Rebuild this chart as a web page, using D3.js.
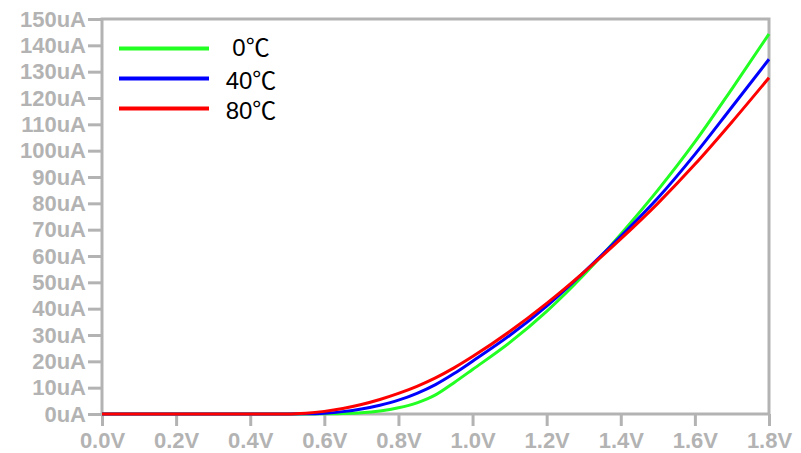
<!DOCTYPE html>
<html lang="en">
<head>
    <meta charset="UTF-8">
    <title>Id-Vg vs temperature</title>
    <script src="https://d3js.org/d3.v7.min.js"></script>
    <style>
        body { margin: 0; background: #fff; }
        .axis text {
            font-family: "Liberation Sans", Arial, sans-serif;
            font-weight: bold;
            font-size: 22px;
            fill: #b3b3b3;
        }
        .axis line, .axis path { stroke: #b3b3b3; stroke-width: 3; }
        .line { fill: none; stroke-width: 3; }
        .legend text {
            font-family: "Liberation Sans", Arial, "Noto Sans CJK SC", sans-serif;
            font-size: 24px;
            fill: #000;
        }
    </style>
</head>
<body>
    <svg width="801" height="453"></svg>
    <script>
        // gate voltage (V)
        const vgs = [0.0, 0.1, 0.2, 0.3, 0.4, 0.5, 0.55, 0.6, 0.65, 0.7, 0.75, 0.8, 0.85, 0.9, 0.95,
                     1.0, 1.1, 1.2, 1.3, 1.4, 1.5, 1.6, 1.7, 1.8];
        // drain current (uA)
        const id0C  = [0, 0, 0, 0, 0, 0, 0,    0.05, 0.15, 0.45, 1.15, 2.35, 4.25, 7.25, 11.9,
                       16.9, 27.1, 39.0, 52.8, 68.3, 85.0, 103.3, 123.5, 144.3];
        const id40C = [0, 0, 0, 0, 0, 0, 0.05, 0.3,  0.9,  1.9,  3.35, 5.25, 7.85, 11.15, 15.35,
                       20.05, 29.8, 41.0, 53.8, 67.5, 82.0, 98.6, 116.6, 134.7];
        const id80C = [0, 0, 0, 0, 0, 0, 0.3,  1.0,  2.1,  3.6,  5.5,  7.8,  10.5, 13.7, 17.5,
                       21.8, 31.3, 42.0, 53.8, 66.5, 80.0, 94.8, 110.9, 127.7];

        const seriesNames = ["0℃", "40℃", "80℃"];
        const seriesColors = ["#22ff22", "#0000ff", "#ff0000"];
        const seriesValues = [id0C, id40C, id80C];

        const xTicks = [0, 0.2, 0.4, 0.6, 0.8, 1.0, 1.2, 1.4, 1.6, 1.8];
        const yTicks = d3.range(0, 151, 10);

        const width = 801;
        const height = 453;
        const margin = {top: 19, right: 32, bottom: 39, left: 102};

        const svg = d3.select("svg");

        const x = d3.scaleLinear()
            .domain([0, 1.8])
            .range([margin.left, width - margin.right]);

        const y = d3.scaleLinear()
            .domain([0, 150])
            .range([height - margin.bottom, margin.top]);

        // frame
        svg.append("rect")
            .attr("x", x(0))
            .attr("y", y(150))
            .attr("width", x(1.8) - x(0))
            .attr("height", y(0) - y(150))
            .attr("fill", "none")
            .attr("stroke", "#b3b3b3")
            .attr("stroke-width", 3);

        svg.append("g")
            .attr("class", "axis")
            .attr("transform", `translate(0,${y(0)})`)
            .call(d3.axisBottom(x).tickValues(xTicks).tickSize(12).tickPadding(6)
                .tickFormat(d => d.toFixed(1) + "V"))
            .call(g => g.select(".domain").remove());

        svg.append("g")
            .attr("class", "axis")
            .attr("transform", `translate(${x(0)},0)`)
            .call(d3.axisLeft(y).tickValues(yTicks).tickSize(14).tickPadding(2)
                .tickFormat(d => d + "uA"))
            .call(g => g.select(".domain").remove());

        const line = d3.line()
            .x((d, i) => x(vgs[i]))
            .y(d => y(d))
            .curve(d3.curveMonotoneX);

        seriesValues.forEach((vals, k) => {
            svg.append("path")
                .datum(vals)
                .attr("class", "line")
                .attr("stroke", seriesColors[k])
                .attr("d", line);
        });

        // legend
        const legend = svg.append("g").attr("class", "legend");
        seriesNames.forEach((name, k) => {
            const ly = 48.5 + k * 30;
            legend.append("line")
                .attr("x1", 119).attr("x2", 209)
                .attr("y1", ly).attr("y2", ly)
                .attr("stroke", seriesColors[k])
                .attr("stroke-width", 4);
            legend.append("text")
                .attr("x", 251)
                .attr("y", ly + (k === 0 ? 7.5 : 10.5))
                .attr("text-anchor", "middle")
                .text(name);
        });
    </script>
</body>
</html>
